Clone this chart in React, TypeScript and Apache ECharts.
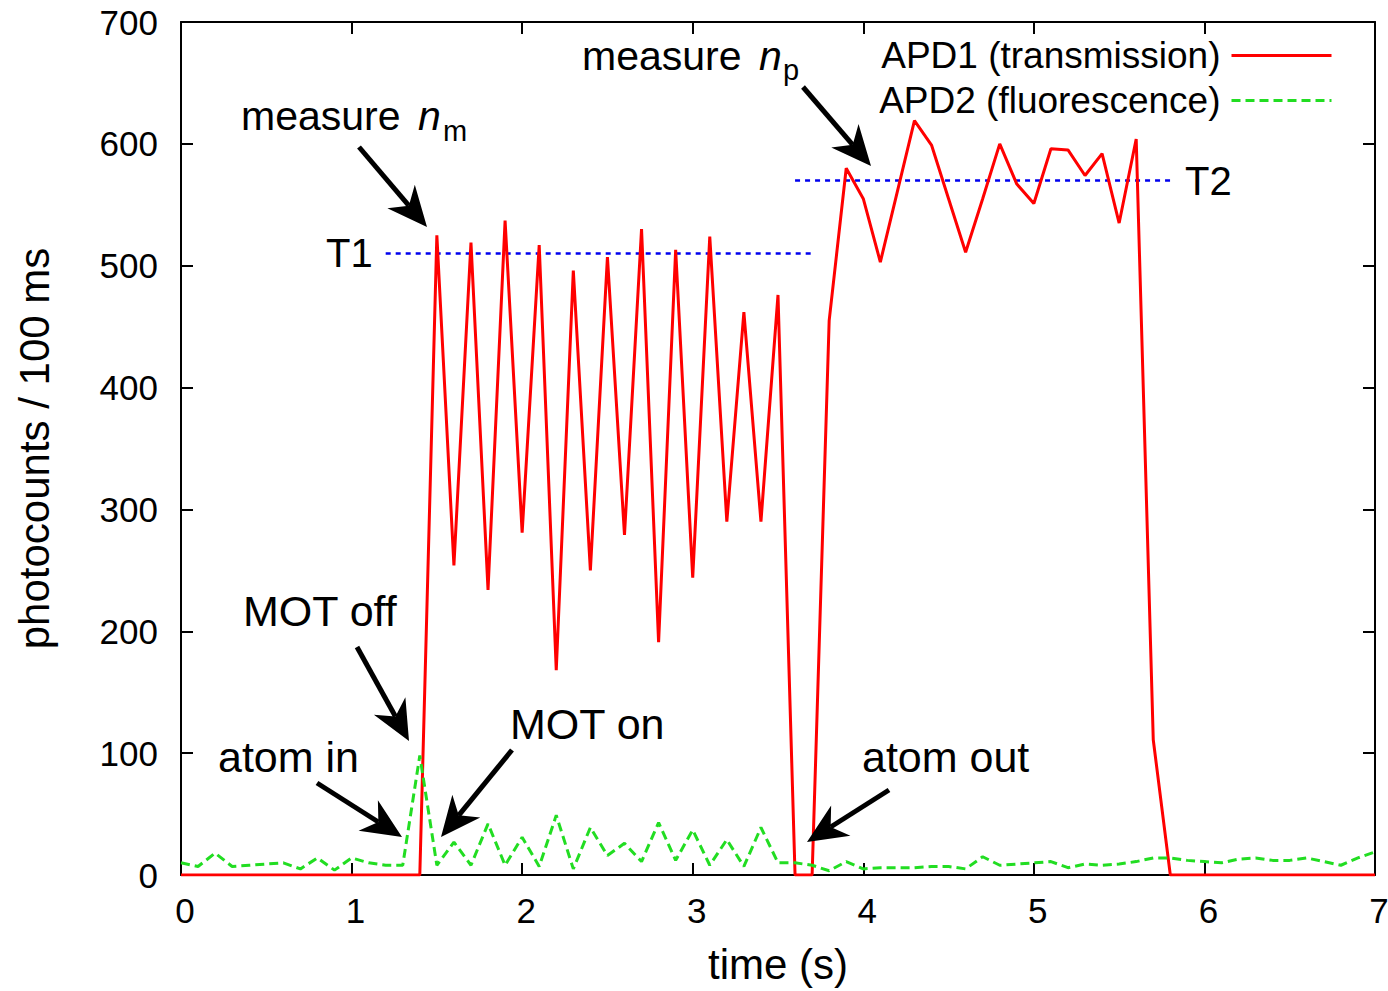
import React, { useEffect, useRef } from "react";
import * as echarts from "echarts";

const FONT = "Liberation Sans, Arial, Helvetica, sans-serif";

const times = [
  0, 0.1, 0.2, 0.3, 0.4, 0.5, 0.6, 0.7, 0.8, 0.9,
  1, 1.1, 1.2, 1.3, 1.4, 1.5, 1.6, 1.7, 1.8, 1.9,
  2, 2.1, 2.2, 2.3, 2.4, 2.5, 2.6, 2.7, 2.8, 2.9,
  3, 3.1, 3.2, 3.3, 3.4, 3.5, 3.6, 3.7, 3.8, 3.9,
  4, 4.1, 4.2, 4.3, 4.4, 4.5, 4.6, 4.7, 4.8, 4.9,
  5, 5.1, 5.2, 5.3, 5.4, 5.5, 5.6, 5.7, 5.8, 5.9,
  6, 6.1, 6.2, 6.3, 6.4, 6.5, 6.6, 6.7, 6.8, 6.9,
  7,
];

const apd1Transmission = [
  0, 0, 0, 0, 0, 0, 0, 0, 0, 0,
  0, 0, 0, 0, 0, 525, 254, 519, 234, 537,
  281, 517, 168, 496, 250, 507, 279, 530, 191, 513,
  244, 524, 290, 462, 290, 476, 0, 0, 455, 580,
  555, 503, 561, 619, 599, 555, 511, 555, 600, 567,
  551, 596, 595, 574, 592, 535, 604, 111, 0, 0,
  0, 0, 0, 0, 0, 0, 0, 0, 0, 0,
  0,
];

const apd2Fluorescence = [
  10, 7, 18, 7, 8, 9, 10, 5, 14, 4,
  14, 10, 8, 8, 98, 8, 27, 8, 42, 8,
  31, 7, 49, 5, 39, 16, 26, 11, 43, 12,
  37, 8, 29, 7, 39, 10, 10, 8, 3.5, 11,
  5, 6, 6, 6, 7, 7, 5, 15, 8, 9,
  10, 11, 6, 9, 8, 9, 11, 14, 14, 12,
  11, 10, 13, 14, 12, 12, 14, 11, 8, 14,
  19,
];

const seriesNames = ["APD1 (transmission)", "APD2 (fluorescence)"];

const thresholdT1 = { name: "T1", start: 1.2, end: 3.7, value: 510 };
const thresholdT2 = { name: "T2", start: 3.6, end: 5.8, value: 570 };

const xTicks = [0, 1, 2, 3, 4, 5, 6, 7];
const yTicks = [0, 100, 200, 300, 400, 500, 600, 700];

// annotation arrows: [startX, startY, tipX, tipY] in pixels
const arrows = [
  [359, 147, 427, 227],
  [803, 87, 871, 166],
  [357, 647, 409, 741],
  [512, 750, 441, 837],
  [317, 783, 402, 837],
  [889, 790, 807, 842],
];

function arrowGraphics(a: number[]) {
  const [sx, sy, tx, ty] = a;
  const dx = tx - sx;
  const dy = ty - sy;
  const len = Math.sqrt(dx * dx + dy * dy);
  const ux = dx / len;
  const uy = dy / len;
  const nx = -uy;
  const ny = ux;
  const L = 40;
  const W = 18;
  const back = 28;
  const bx = tx - ux * back;
  const by = ty - uy * back;
  return [
    {
      type: "line",
      shape: { x1: sx, y1: sy, x2: bx, y2: by },
      style: { stroke: "#000", lineWidth: 5 },
      z: 100,
    },
    {
      type: "polygon",
      shape: {
        points: [
          [tx, ty],
          [tx - ux * L + nx * W, ty - uy * L + ny * W],
          [bx, by],
          [tx - ux * L - nx * W, ty - uy * L - ny * W],
        ],
      },
      style: { fill: "#000" },
      z: 100,
    },
  ];
}

function label(text: string, x: number, y: number, size = 40, italic = false) {
  return {
    type: "text",
    x,
    y,
    z: 100,
    style: {
      text,
      fill: "#000",
      font: `${italic ? "italic " : ""}${size}px ${FONT}`,
      textAlign: "left",
      textVerticalAlign: "middle",
    },
  };
}

export default function App() {
  const ref = useRef<HTMLDivElement>(null);

  useEffect(() => {
    if (!ref.current) return;
    const chart = echarts.init(ref.current, undefined, { renderer: "svg" });

    const red = times.map((t, i) => [t, apd1Transmission[i]]);
    const green = times.map((t, i) => [t, apd2Fluorescence[i]]);

    const axisCommon = {
      axisLine: { show: true, onZero: false, lineStyle: { color: "#000", width: 2 } },
      axisTick: { show: true, inside: true, length: 12, lineStyle: { color: "#000", width: 2 } },
      splitLine: { show: false },
    };

    const graphics: any[] = [];
    arrows.forEach((a) => graphics.push(...arrowGraphics(a)));
    graphics.push(label("measure", 241, 116, 41));
    graphics.push(label("n", 418, 116, 41, true));
    graphics.push(label("m", 443, 131, 29));
    graphics.push(label("measure", 582, 56, 41));
    graphics.push(label("n", 759, 56, 41, true));
    graphics.push(label("p", 783, 70, 29));
    graphics.push(label(thresholdT1.name, 326, 253));
    graphics.push(label(thresholdT2.name, 1185, 181));
    graphics.push(label("MOT off", 243, 611, 43));
    graphics.push(label("MOT on", 510, 724, 43));
    graphics.push(label("atom in", 218, 757, 43));
    graphics.push(label("atom out", 862, 757, 43));

    chart.setOption({
      animation: false,
      backgroundColor: "#fff",
      textStyle: { fontFamily: FONT },
      grid: { left: 181, right: 13, top: 22, bottom: 116, containLabel: false, outerBoundsMode: "none" },
      legend: {
        data: seriesNames,
        orient: "vertical",
        align: "right",
        right: 55,
        top: 37,
        padding: 0,
        itemWidth: 100,
        itemHeight: 20,
        itemGap: 8,
        itemStyle: { opacity: 0, borderWidth: 0 },
        lineStyle: { width: 3 },
        textStyle: { fontSize: 37, fontFamily: FONT, color: "#000", lineHeight: 37, padding: [0, 6, 0, 0] },
      },
      xAxis: [
        {
          type: "value",
          min: xTicks[0],
          max: xTicks[xTicks.length - 1],
          interval: 1,
          position: "bottom",
          name: "time (s)",
          nameLocation: "middle",
          nameGap: 68,
          nameTextStyle: { fontSize: 42, color: "#000", fontFamily: FONT },
          axisLabel: { fontSize: 35, color: "#000", margin: 18, padding: [0, 0, 0, 8], fontFamily: FONT },
          ...axisCommon,
        },
        {
          type: "value",
          min: xTicks[0],
          max: xTicks[xTicks.length - 1],
          interval: 1,
          position: "top",
          axisLabel: { show: false },
          ...axisCommon,
        },
      ],
      yAxis: [
        {
          type: "value",
          min: yTicks[0],
          max: yTicks[yTicks.length - 1],
          interval: 100,
          position: "left",
          name: "photocounts / 100 ms",
          nameLocation: "middle",
          nameGap: 126,
          nameRotate: 90,
          nameTextStyle: { fontSize: 42, color: "#000", fontFamily: FONT },
          axisLabel: { fontSize: 35, color: "#000", margin: 23, fontFamily: FONT },
          ...axisCommon,
        },
        {
          type: "value",
          min: yTicks[0],
          max: yTicks[yTicks.length - 1],
          interval: 100,
          position: "right",
          axisLabel: { show: false },
          ...axisCommon,
        },
      ],
      series: [
        {
          name: seriesNames[0],
          type: "line",
          data: red,
          symbol: "none",
          lineStyle: { color: "#ff0000", width: 3 },
          itemStyle: { color: "#ff0000" },
          z: 3,
        },
        {
          name: seriesNames[1],
          type: "line",
          data: green,
          symbol: "none",
          lineStyle: { color: "#22dd22", width: 3, type: [9, 5] },
          itemStyle: { color: "#22dd22" },
          z: 4,
        },
        {
          name: thresholdT1.name,
          type: "line",
          data: [
            [thresholdT1.start, thresholdT1.value],
            [thresholdT1.end, thresholdT1.value],
          ],
          symbol: "none",
          lineStyle: { color: "#0000ee", width: 2.5, type: [5, 5] },
          z: 2,
        },
        {
          name: thresholdT2.name,
          type: "line",
          data: [
            [thresholdT2.start, thresholdT2.value],
            [thresholdT2.end, thresholdT2.value],
          ],
          symbol: "none",
          lineStyle: { color: "#0000ee", width: 2.5, type: [5, 5] },
          z: 2,
        },
      ],
      graphic: graphics,
    });

    return () => chart.dispose();
  }, []);

  return (
    <div
      ref={ref}
      style={{ position: "fixed", left: 0, top: 0, width: 1388, height: 991, background: "#fff" }}
    />
  );
}
